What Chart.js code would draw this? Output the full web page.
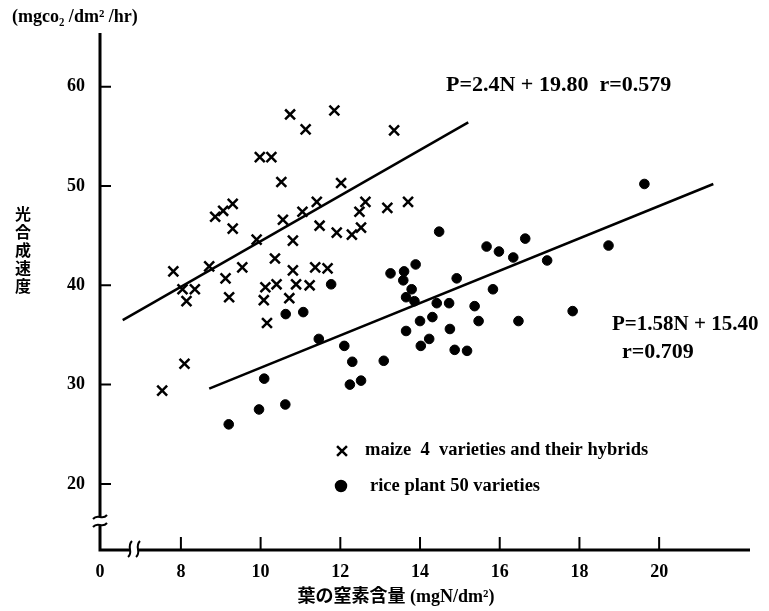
<!DOCTYPE html>
<html>
<head>
<meta charset="utf-8">
<script src="https://cdn.jsdelivr.net/npm/chart.js@4.4.1/dist/chart.umd.min.js"></script>
<style>
html, body { margin: 0; padding: 0; background: #fff; }
#wrap { width: 769px; height: 611px; }
</style>
</head>
<body>
<div id="wrap"><canvas id="myChart" width="769" height="611"></canvas></div>
<script>
// maize 4 varieties and their hybrids (leaf N, photosynthesis rate)
const maizeN = [7.53, 7.81, 8.04, 8.35, 8.14, 8.09, 8.71, 9.12, 9.21, 9.54, 10.36, 10.81,
    11.37, 11.68, 10.12, 10.40, 10.89, 11.23, 10.08, 10.72, 10.16, 10.74, 11.85, 11.13,
    9.98, 10.27, 10.52, 12.02, 9.30, 9.06, 8.86, 9.30, 10.56, 11.05, 11.41, 11.48,
    11.91, 9.90, 10.81, 13.35, 12.63, 12.48, 13.18, 13.70, 12.29, 12.52];
const maizeP = [29.4, 41.4, 39.6, 39.6, 38.4, 32.1, 41.9, 40.7, 38.8, 41.8, 42.7, 41.5,
    41.8, 41.7, 39.8, 40.1, 40.1, 40.0, 38.5, 38.7, 36.2, 57.2, 57.6, 55.7,
    52.9, 52.9, 50.4, 50.3, 48.2, 47.5, 46.9, 45.7, 46.6, 47.4, 48.4, 46.0,
    45.3, 44.6, 44.5, 55.6, 48.4, 47.4, 47.8, 48.4, 45.1, 45.8];
// rice plant 50 varieties
const riceN = [9.20, 9.96, 10.62, 10.09, 10.63, 11.07, 11.46, 11.77, 12.10, 12.30, 12.24, 12.52,
    13.09, 13.26, 13.60, 13.89, 13.58, 13.79, 13.65, 13.86, 14.42, 14.73, 14.92, 14.48,
    15.37, 15.83, 15.67, 15.98, 16.34, 16.64, 17.19, 18.73, 19.63, 17.83, 16.47, 15.47,
    14.00, 14.31, 13.65, 14.75, 14.23, 14.02, 14.87, 15.18];
const riceP = [26.0, 27.5, 28.0, 30.6, 37.1, 37.3, 34.6, 40.1, 33.9, 32.3, 30.0, 30.4,
    32.4, 41.2, 41.4, 42.1, 40.5, 39.6, 38.8, 38.4, 38.2, 38.2, 40.7, 45.4,
    37.9, 39.6, 43.9, 43.4, 42.8, 44.7, 42.5, 44.0, 50.2, 37.4, 36.4, 36.4,
    36.4, 36.8, 35.4, 35.6, 34.6, 33.9, 33.5, 33.4];
// regression lines, end points as drawn
const maizeFitN = [6.54, 15.21];
const maizeFitP = [36.5, 56.4];
const riceFitN = [8.71, 21.36];
const riceFitP = [29.6, 50.2];

const xTicks = [8, 10, 12, 14, 16, 18, 20];
const yTicks = [20, 30, 40, 50, 60];
const xMin = 5.97, xMax = 22.28;
const yMin = 13.35, yMax = 65.4;

const toPts = (xs, ys) => xs.map((v, i) => ({ x: v, y: ys[i] }));

const SERIF = "'Liberation Serif', 'Noto Sans CJK JP', serif";

function txt(ctx, s, x, y, size, align) {
    ctx.font = 'bold ' + size + 'px ' + SERIF;
    ctx.textAlign = align || 'left';
    ctx.textBaseline = 'middle';
    ctx.fillStyle = '#000';
    ctx.fillText(s, x, y);
}

const decor = {
    id: 'decor',
    afterDraw(chart) {
        const ctx = chart.ctx;
        const xs = chart.scales.x, ys = chart.scales.y;
        const x0 = xs.left, y0 = ys.bottom;
        const yBr = y0 - 29, xBr = x0 + 34;
        ctx.save();
        ctx.strokeStyle = '#000';
        ctx.lineWidth = 3;
        // y axis with break
        ctx.beginPath();
        ctx.moveTo(x0, ys.top); ctx.lineTo(x0, yBr - 4);
        ctx.moveTo(x0, yBr + 4); ctx.lineTo(x0, y0 + 1.5);
        // x axis with break
        ctx.moveTo(x0 - 1.5, y0); ctx.lineTo(xBr - 4, y0);
        ctx.moveTo(xBr + 4, y0); ctx.lineTo(xs.right, y0);
        ctx.stroke();
        // break marks
        ctx.lineWidth = 2;
        ctx.beginPath();
        [-4, 4].forEach(d => {
            ctx.moveTo(x0 - 7, yBr + d + 2);
            ctx.bezierCurveTo(x0 - 2, yBr + d - 4, x0 + 2, yBr + d + 4, x0 + 7, yBr + d - 2);
            ctx.moveTo(xBr + d - 2, y0 + 7);
            ctx.bezierCurveTo(xBr + d + 4, y0 + 2, xBr + d - 4, y0 - 3, xBr + d + 2, y0 - 9);
        });
        ctx.stroke();
        // tick marks pointing inward
        ctx.beginPath();
        yTicks.forEach(v => {
            const p = ys.getPixelForValue(v);
            ctx.moveTo(x0, p); ctx.lineTo(x0 + 11, p);
        });
        xTicks.forEach(v => {
            const p = xs.getPixelForValue(v);
            ctx.moveTo(p, y0); ctx.lineTo(p, y0 - 13);
        });
        ctx.stroke();

        // titles
        txt(ctx, '(mgco\u2082 /dm\u00b2 /hr)', 12, 17, 18);
        txt(ctx, '\u8449\u306e\u7a92\u7d20\u542b\u91cf (mgN/dm\u00b2)', 396, 597, 18, 'center');
        const ttl = '\u5149\u5408\u6210\u901f\u5ea6';
        for (let i = 0; i < ttl.length; i++) {
            txt(ctx, ttl[i], 23, 216 + i * 18, 16, 'center');
        }
        // equations
        txt(ctx, 'P=2.4N + 19.80  r=0.579', 446, 85, 22);
        txt(ctx, 'P=1.58N + 15.40', 612, 325, 21);
        txt(ctx, 'r=0.709', 622, 352, 22);

        // legend
        ctx.lineWidth = 2.5;
        ctx.strokeStyle = '#000';
        ctx.fillStyle = '#000';
        Chart.helpers.drawPoint(ctx, { pointStyle: 'crossRot', radius: 7, rotation: 0, borderWidth: 2.5 }, 342, 451);
        Chart.helpers.drawPoint(ctx, { pointStyle: 'circle', radius: 5, rotation: 0, borderWidth: 1 }, 341, 486);
        txt(ctx, 'maize  4  varieties and their hybrids', 365, 450, 18.5);
        txt(ctx, 'rice plant 50 varieties', 370, 486, 18.5);
        ctx.restore();
    }
};

const data = {
    datasets: [
        {
            label: 'maize 4 varieties and their hybrids',
            data: toPts(maizeN, maizeP),
            pointStyle: 'crossRot',
            pointRadius: 7,
            borderColor: '#000',
            backgroundColor: '#000',
            borderWidth: 2.5,
            showLine: false
        },
        {
            label: 'rice plant 50 varieties',
            data: toPts(riceN, riceP),
            pointStyle: 'circle',
            pointRadius: 4.8,
            borderColor: '#000',
            backgroundColor: '#000',
            borderWidth: 1,
            showLine: false
        },
        {
            label: 'maize fit',
            data: toPts(maizeFitN, maizeFitP),
            showLine: true,
            pointRadius: 0,
            borderColor: '#000',
            borderWidth: 2.5
        },
        {
            label: 'rice fit',
            data: toPts(riceFitN, riceFitP),
            showLine: true,
            pointRadius: 0,
            borderColor: '#000',
            borderWidth: 2.5
        }
    ]
};

const tickFont = { family: SERIF, size: 18, weight: 'bold' };

const config = {
    type: 'scatter',
    data: data,
    options: {
        responsive: false,
        animation: false,
        layout: { padding: { left: 0, top: 33, right: 19, bottom: 0 } },
        plugins: {
            legend: { display: false },
            tooltip: { enabled: false }
        },
        scales: {
            x: {
                type: 'linear',
                min: xMin,
                max: xMax,
                afterBuildTicks: (s) => { s.ticks = [xMin].concat(xTicks).map(v => ({ value: v })); },
                afterFit: (s) => { s.height = 61; },
                grid: { display: false, drawTicks: false },
                border: { display: false },
                ticks: {
                    padding: 12,
                    color: '#000',
                    font: tickFont,
                    autoSkip: false,
                    maxRotation: 0,
                    callback: (v) => v === xMin ? '0' : String(v)
                }
            },
            y: {
                type: 'linear',
                min: yMin,
                max: yMax,
                afterBuildTicks: (s) => { s.ticks = yTicks.map(v => ({ value: v })); },
                afterFit: (s) => { s.width = 100; },
                grid: { display: false, drawTicks: false },
                border: { display: false },
                ticks: {
                    padding: 15,
                    color: '#000',
                    font: tickFont,
                    callback: (v) => String(v)
                }
            }
        }
    },
    plugins: [decor]
};

const myChart = new Chart(document.getElementById('myChart'), config);
</script>
</body>
</html>
